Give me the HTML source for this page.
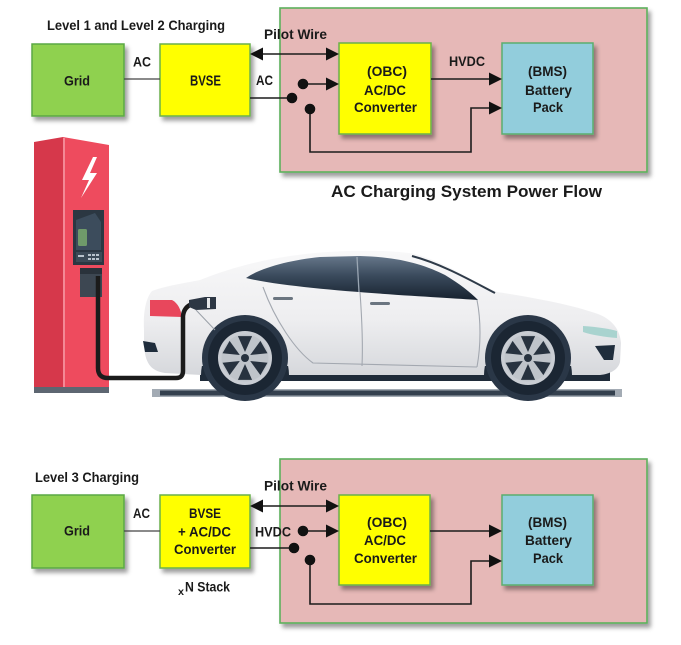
<!DOCTYPE html>
<html><head><meta charset="utf-8"><style>
html,body{margin:0;padding:0;background:#fff;}
svg{display:block;}
text{font-family:"Liberation Sans",Arial,sans-serif;font-weight:bold;fill:#1a1a1a;}
</style></head><body>
<svg width="681" height="645" viewBox="0 0 681 645" xmlns="http://www.w3.org/2000/svg">
<defs>
<filter id="sh" x="-10%" y="-10%" width="130%" height="130%">
<feDropShadow dx="3" dy="4" stdDeviation="2.2" flood-color="#000" flood-opacity="0.38"/>
</filter>
<linearGradient id="body" x1="0" y1="0" x2="0" y2="1">
<stop offset="0" stop-color="#f8f8f9"/><stop offset="0.55" stop-color="#eeeef0"/><stop offset="1" stop-color="#d6d8dc"/>
</linearGradient>
<linearGradient id="win" x1="0" y1="0" x2="0" y2="1">
<stop offset="0" stop-color="#66778a"/><stop offset="0.45" stop-color="#3a4a5c"/><stop offset="1" stop-color="#17222f"/>
</linearGradient>
</defs>

<!-- ===== TOP DIAGRAM ===== -->
<text x="47" y="30" font-size="14" textLength="178" lengthAdjust="spacingAndGlyphs">Level 1 and Level 2 Charging</text>
<rect x="280" y="8" width="367" height="164" fill="#e6b8b7" stroke="#5cb05c" stroke-width="1.6" filter="url(#sh)"/>
<rect x="32" y="44" width="92" height="72" fill="#8fd14f" stroke="#5aa845" stroke-width="1.5" filter="url(#sh)"/>
<rect x="160" y="44" width="90" height="72" fill="#ffff00" stroke="#6ab04c" stroke-width="1.5" filter="url(#sh)"/>
<rect x="339" y="43" width="92" height="91" fill="#ffff00" stroke="#6ab04c" stroke-width="1.5" filter="url(#sh)"/>
<rect x="502" y="43" width="91" height="91" fill="#92cddc" stroke="#5aae6e" stroke-width="1.5" filter="url(#sh)"/>

<g stroke="#1c1c1c" stroke-width="1.6" fill="none">
<path d="M124,79 H160" stroke="#444" stroke-width="1.3"/>
<path d="M258,54 H331"/>
<path d="M250,98 H292"/>
<path d="M303,84 H329"/>
<path d="M310,109 V152 H471 V108 H492"/>
<path d="M431,79 H492"/>
</g>
<g fill="#111">
<polygon points="250,54 263,47.5 263,60.5"/>
<polygon points="339,54 326,47.5 326,60.5"/>
<polygon points="339,84 326,77.5 326,90.5"/>
<polygon points="502,108 489,101.5 489,114.5"/>
<polygon points="502,79 489,72.5 489,85.5"/>
<circle cx="292" cy="98" r="5.3"/>
<circle cx="303" cy="84" r="5.3"/>
<circle cx="310" cy="109" r="5.3"/>
</g>

<text x="64" y="85.5" font-size="14" textLength="26" lengthAdjust="spacingAndGlyphs">Grid</text>
<text x="190" y="85.5" font-size="14.5" textLength="31" lengthAdjust="spacingAndGlyphs">BVSE</text>
<text x="133" y="66.5" font-size="14" textLength="18" lengthAdjust="spacingAndGlyphs">AC</text>
<text x="256" y="85" font-size="14" textLength="17" lengthAdjust="spacingAndGlyphs">AC</text>
<text x="264" y="39" font-size="14" textLength="63" lengthAdjust="spacingAndGlyphs">Pilot Wire</text>
<text x="367" y="76" font-size="14" textLength="40" lengthAdjust="spacingAndGlyphs">(OBC)</text>
<text x="364" y="95" font-size="14" textLength="42" lengthAdjust="spacingAndGlyphs">AC/DC</text>
<text x="354" y="112" font-size="14" textLength="63" lengthAdjust="spacingAndGlyphs">Converter</text>
<text x="449" y="66" font-size="14" textLength="36" lengthAdjust="spacingAndGlyphs">HVDC</text>
<text x="528" y="76" font-size="14" textLength="39" lengthAdjust="spacingAndGlyphs">(BMS)</text>
<text x="525" y="95" font-size="14" textLength="47" lengthAdjust="spacingAndGlyphs">Battery</text>
<text x="533" y="112" font-size="14" textLength="30" lengthAdjust="spacingAndGlyphs">Pack</text>
<text x="331" y="197" font-size="17" textLength="271" lengthAdjust="spacingAndGlyphs">AC Charging System Power Flow</text>

<!-- ===== CHARGER ===== -->
<polygon points="34,142 63,137 63,388 34,388" fill="#d6384b"/>
<polygon points="63,137 109,145 109,388 63,388" fill="#ee4b5e"/>
<line x1="64" y1="138" x2="64" y2="388" stroke="#f6a3ad" stroke-width="1.4"/>
<rect x="34" y="387" width="75" height="6" fill="#5d6671"/>
<polygon points="93,157 82,180 89,180 81,198 97,173 90,173 97,157" fill="#ffffff"/>
<rect x="73" y="210" width="31" height="55" fill="#2b3742"/>
<polygon points="76,220 95,213 101,222 101,250 76,250" fill="#3c4c5c"/>
<rect x="78" y="229" width="9" height="17" rx="1.5" fill="#6f9a6a"/>
<rect x="76" y="252" width="26" height="10" fill="#3c4a57"/>
<g fill="#b9c3cc"><rect x="88" y="254" width="3" height="2"/><rect x="92" y="254" width="3" height="2"/><rect x="96" y="254" width="3" height="2"/><rect x="88" y="258" width="3" height="2"/><rect x="92" y="258" width="3" height="2"/><rect x="96" y="258" width="3" height="2"/><rect x="78" y="255" width="6" height="2"/></g>
<rect x="80" y="268" width="22" height="29" fill="#3d4752"/>
<rect x="80" y="268" width="22" height="6" fill="#2a323b"/>

<!-- ===== CAR ===== -->
<rect x="152" y="389" width="470" height="8" fill="#a3abb4"/>
<rect x="160" y="390.5" width="455" height="5" fill="#34404e"/>
<rect x="200" y="366" width="410" height="15" fill="#1f2b39"/>
<path d="M144,330 C143,312 146,298 152,291 C165,286 185,283 200,280 C225,270 255,261 290,256 C330,250 385,249 415,254 C445,262 470,280 497,292 C530,297 570,304 598,314 C613,320 620,330 621,343 L620,362 C618,370 610,374 600,375 L572,375 A44,44 0 1 0 484,375 L289,375 A44,44 0 1 0 201,375 L165,373 C150,371 145,362 144,345 Z" fill="url(#body)"/>
<path d="M246,278 C260,268 290,260 320,257 L360,256 C400,257 425,265 445,275 C460,284 470,292 478,300 C440,297 300,291 246,278 Z" fill="url(#win)"/>
<line x1="357" y1="257" x2="359" y2="292" stroke="#9aa6b3" stroke-width="1.3"/>
<path d="M412,256 C442,264 470,280 495,293" stroke="#2e3a48" stroke-width="2" fill="none"/>
<g stroke="#a3a8b0" stroke-width="1.1" fill="none">
<path d="M263,287 C275,320 295,350 313,363 L477,367"/>
<path d="M360,292 C362,320 363,345 362,366"/>
<path d="M477,300 C481,320 481,345 477,367"/>
</g>
<rect x="273" y="297" width="20" height="3" rx="1.5" fill="#6b7580"/>
<rect x="370" y="302" width="20" height="3" rx="1.5" fill="#6b7580"/>
<path d="M150,300 L172,300 C178,303 181,310 182,317 L150,316 Z" fill="#e8475c"/>
<path d="M583,326 C598,327 610,329 617,331 L617,338 C605,337 592,335 583,332 Z" fill="#a9d3cf"/>
<path d="M595,346 L615,345 L613,360 L604,360 Z" fill="#1f2d3c"/>
<path d="M143,341 L155,343 L158,352 L145,352 Z" fill="#1f2d3c"/>
<!-- wheels -->
<g transform="translate(245,358)">
<circle r="43" fill="#2a3747"/><circle r="37" fill="#1b2633"/><circle r="27" fill="#c9cdd3"/><circle r="23.5" fill="#bfc4ca"/>
<g fill="#27323f">
<polygon points="0,-6 -7.1,-21.9 7.1,-21.9"/><polygon points="0,6 -7.1,21.9 7.1,21.9"/>
<polygon points="5.2,-3 15.4,-17.1 22.5,-4.8"/><polygon points="5.2,3 22.5,4.8 15.4,17.1"/>
<polygon points="-5.2,3 -15.4,17.1 -22.5,4.8"/><polygon points="-5.2,-3 -22.5,-4.8 -15.4,-17.1"/>
<circle r="4"/></g></g>
<g transform="translate(528,358)">
<circle r="43" fill="#2a3747"/><circle r="37" fill="#1b2633"/><circle r="27" fill="#c9cdd3"/><circle r="23.5" fill="#bfc4ca"/>
<g fill="#27323f">
<polygon points="0,-6 -7.1,-21.9 7.1,-21.9"/><polygon points="0,6 -7.1,21.9 7.1,21.9"/>
<polygon points="5.2,-3 15.4,-17.1 22.5,-4.8"/><polygon points="5.2,3 22.5,4.8 15.4,17.1"/>
<polygon points="-5.2,3 -15.4,17.1 -22.5,4.8"/><polygon points="-5.2,-3 -22.5,-4.8 -15.4,-17.1"/>
<circle r="4"/></g></g>
<!-- plug + cable -->
<path d="M98,276 L98,368 Q98,378 108,378 L176,378 Q183,378 183,371 L183,316 Q184,307 192,304" stroke="#1b1b1b" stroke-width="4.5" fill="none"/>
<polygon points="189,300 205,297 216,297 216,309 196,310 189,307" fill="#2d3744"/>
<rect x="207" y="298" width="3" height="10" fill="#e6e8ea"/>
<line x1="196" y1="310" x2="215" y2="330" stroke="#9aa0a8" stroke-width="1"/>

<!-- ===== BOTTOM DIAGRAM ===== -->
<text x="35" y="482" font-size="14" textLength="104" lengthAdjust="spacingAndGlyphs">Level 3 Charging</text>
<rect x="280" y="459" width="367" height="164" fill="#e6b8b7" stroke="#5cb05c" stroke-width="1.6" filter="url(#sh)"/>
<rect x="32" y="495" width="92" height="73" fill="#8fd14f" stroke="#5aa845" stroke-width="1.5" filter="url(#sh)"/>
<rect x="160" y="495" width="90" height="73" fill="#ffff00" stroke="#6ab04c" stroke-width="1.5" filter="url(#sh)"/>
<rect x="339" y="495" width="91" height="90" fill="#ffff00" stroke="#6ab04c" stroke-width="1.5" filter="url(#sh)"/>
<rect x="502" y="495" width="91" height="90" fill="#92cddc" stroke="#5aae6e" stroke-width="1.5" filter="url(#sh)"/>

<g stroke="#1c1c1c" stroke-width="1.6" fill="none">
<path d="M124,531 H160" stroke="#444" stroke-width="1.3"/>
<path d="M258,506 H331"/>
<path d="M250,548 H294"/>
<path d="M303,531 H329"/>
<path d="M310,560 V604 H471 V561 H492"/>
<path d="M430,531 H492"/>
</g>
<g fill="#111">
<polygon points="250,506 263,499.5 263,512.5"/>
<polygon points="339,506 326,499.5 326,512.5"/>
<polygon points="339,531 326,524.5 326,537.5"/>
<polygon points="502,561 489,554.5 489,567.5"/>
<polygon points="502,531 489,524.5 489,537.5"/>
<circle cx="294" cy="548" r="5.3"/>
<circle cx="303" cy="531" r="5.3"/>
<circle cx="310" cy="560" r="5.3"/>
</g>

<text x="64" y="535.5" font-size="14" textLength="26" lengthAdjust="spacingAndGlyphs">Grid</text>
<text x="133" y="518" font-size="14" textLength="17" lengthAdjust="spacingAndGlyphs">AC</text>
<text x="189" y="518" font-size="14" textLength="32" lengthAdjust="spacingAndGlyphs">BVSE</text>
<text x="178" y="536.5" font-size="14" textLength="53" lengthAdjust="spacingAndGlyphs">+ AC/DC</text>
<text x="174" y="554" font-size="14" textLength="62" lengthAdjust="spacingAndGlyphs">Converter</text>
<text x="178" y="595" font-size="10" textLength="6" lengthAdjust="spacingAndGlyphs">x</text>
<text x="185" y="591.5" font-size="14" textLength="45" lengthAdjust="spacingAndGlyphs">N Stack</text>
<text x="264" y="490.5" font-size="14" textLength="63" lengthAdjust="spacingAndGlyphs">Pilot Wire</text>
<text x="255" y="536.5" font-size="14" textLength="36" lengthAdjust="spacingAndGlyphs">HVDC</text>
<text x="367" y="527" font-size="14" textLength="40" lengthAdjust="spacingAndGlyphs">(OBC)</text>
<text x="364" y="545" font-size="14" textLength="42" lengthAdjust="spacingAndGlyphs">AC/DC</text>
<text x="354" y="563" font-size="14" textLength="63" lengthAdjust="spacingAndGlyphs">Converter</text>
<text x="528" y="527" font-size="14" textLength="39" lengthAdjust="spacingAndGlyphs">(BMS)</text>
<text x="525" y="545" font-size="14" textLength="47" lengthAdjust="spacingAndGlyphs">Battery</text>
<text x="533" y="563" font-size="14" textLength="30" lengthAdjust="spacingAndGlyphs">Pack</text>
<text x="331" y="658" font-size="17" textLength="271" lengthAdjust="spacingAndGlyphs" fill="#888">DC Charging System Power Flow</text>
</svg>
</body></html>
